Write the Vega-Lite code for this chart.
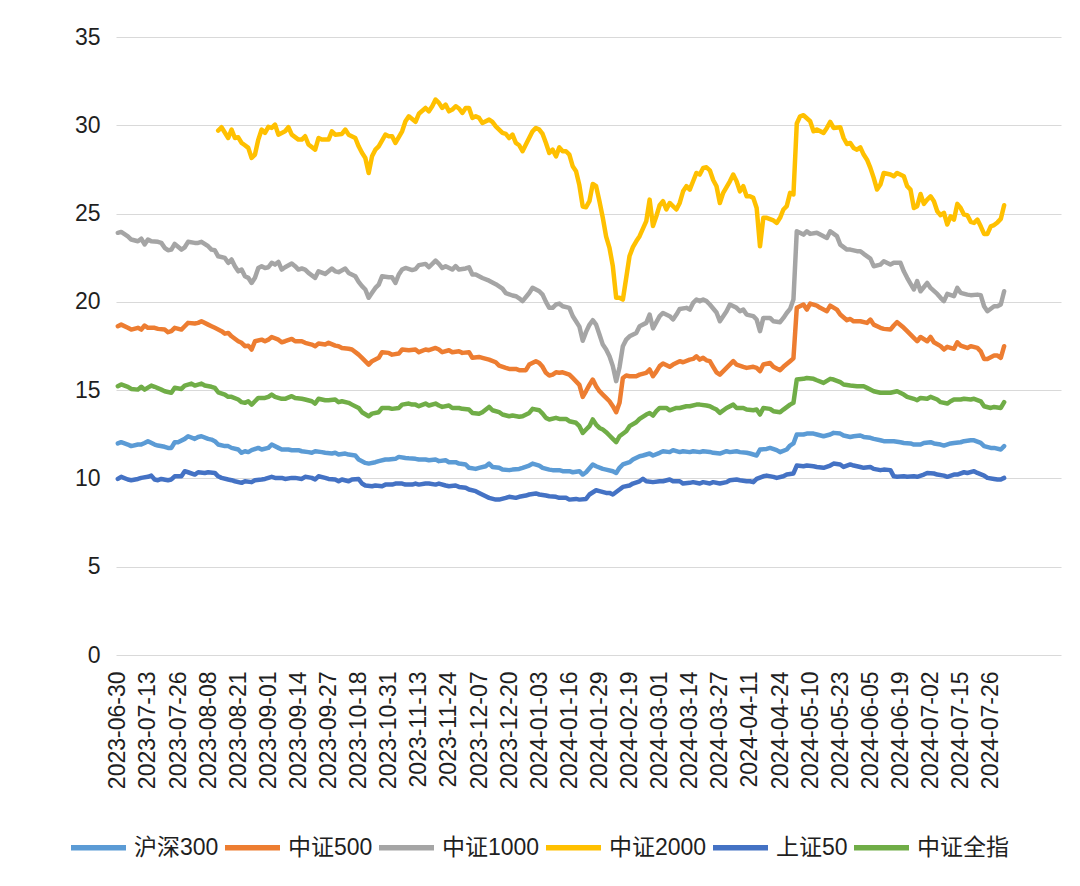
{
  "$schema": "https://vega.github.io/schema/vega-lite/v6.json",
  "width": 945,
  "height": 618,
  "autosize": {"type": "none"},
  "padding": {"left": 116, "top": 37, "right": 19, "bottom": 231},
  "background": "white",
  "config": {
    "view": {"stroke": null},
    "font": "Liberation Sans",
    "axis": {"labelFont": "Liberation Sans", "labelColor": "#1f1f1f", "labelFontSize": 23, "ticks": false, "domain": false, "title": null}
  },
  "datasets": {
    "hs300": [{"i":0,"v":11.98},{"i":1,"v":12.05},{"i":3,"v":11.92},{"i":4,"v":11.83},{"i":6,"v":11.92},{"i":7,"v":11.92},{"i":8,"v":12.01},{"i":9,"v":12.11},{"i":11,"v":11.92},{"i":12,"v":11.86},{"i":14,"v":11.79},{"i":15,"v":11.73},{"i":16,"v":11.73},{"i":17,"v":12.05},{"i":18,"v":12.05},{"i":20,"v":12.24},{"i":21,"v":12.39},{"i":23,"v":12.24},{"i":24,"v":12.35},{"i":25,"v":12.39},{"i":27,"v":12.24},{"i":28,"v":12.2},{"i":29,"v":12.11},{"i":30,"v":11.92},{"i":32,"v":11.83},{"i":33,"v":11.83},{"i":34,"v":11.73},{"i":36,"v":11.64},{"i":37,"v":11.45},{"i":38,"v":11.54},{"i":39,"v":11.49},{"i":40,"v":11.6},{"i":42,"v":11.73},{"i":43,"v":11.64},{"i":45,"v":11.73},{"i":46,"v":11.92},{"i":48,"v":11.73},{"i":49,"v":11.64},{"i":51,"v":11.64},{"i":52,"v":11.6},{"i":54,"v":11.6},{"i":55,"v":11.54},{"i":57,"v":11.49},{"i":58,"v":11.45},{"i":59,"v":11.54},{"i":61,"v":11.49},{"i":62,"v":11.45},{"i":64,"v":11.41},{"i":65,"v":11.45},{"i":66,"v":11.35},{"i":68,"v":11.41},{"i":69,"v":11.35},{"i":71,"v":11.3},{"i":72,"v":11.07},{"i":74,"v":10.88},{"i":75,"v":10.84},{"i":77,"v":10.92},{"i":78,"v":10.98},{"i":80,"v":11.07},{"i":81,"v":11.07},{"i":83,"v":11.11},{"i":84,"v":11.22},{"i":86,"v":11.16},{"i":87,"v":11.14},{"i":89,"v":11.11},{"i":90,"v":11.07},{"i":92,"v":11.07},{"i":93,"v":11.03},{"i":95,"v":11.07},{"i":96,"v":10.98},{"i":98,"v":11.03},{"i":99,"v":10.92},{"i":101,"v":10.92},{"i":102,"v":10.84},{"i":104,"v":10.79},{"i":105,"v":10.6},{"i":107,"v":10.54},{"i":108,"v":10.6},{"i":110,"v":10.69},{"i":111,"v":10.84},{"i":112,"v":10.65},{"i":114,"v":10.6},{"i":115,"v":10.5},{"i":117,"v":10.47},{"i":118,"v":10.5},{"i":120,"v":10.54},{"i":121,"v":10.6},{"i":123,"v":10.73},{"i":124,"v":10.84},{"i":126,"v":10.73},{"i":127,"v":10.6},{"i":129,"v":10.5},{"i":130,"v":10.47},{"i":132,"v":10.47},{"i":133,"v":10.41},{"i":135,"v":10.41},{"i":136,"v":10.35},{"i":138,"v":10.41},{"i":139,"v":10.22},{"i":140,"v":10.35},{"i":142,"v":10.79},{"i":143,"v":10.69},{"i":145,"v":10.54},{"i":146,"v":10.5},{"i":148,"v":10.41},{"i":149,"v":10.31},{"i":150,"v":10.6},{"i":151,"v":10.79},{"i":153,"v":10.92},{"i":154,"v":11.07},{"i":156,"v":11.26},{"i":157,"v":11.3},{"i":159,"v":11.41},{"i":160,"v":11.3},{"i":162,"v":11.45},{"i":163,"v":11.54},{"i":165,"v":11.49},{"i":166,"v":11.6},{"i":168,"v":11.49},{"i":169,"v":11.54},{"i":171,"v":11.49},{"i":172,"v":11.54},{"i":174,"v":11.49},{"i":175,"v":11.54},{"i":177,"v":11.5},{"i":178,"v":11.45},{"i":180,"v":11.41},{"i":182,"v":11.54},{"i":183,"v":11.49},{"i":185,"v":11.54},{"i":186,"v":11.49},{"i":188,"v":11.45},{"i":189,"v":11.41},{"i":191,"v":11.3},{"i":192,"v":11.64},{"i":194,"v":11.67},{"i":195,"v":11.73},{"i":197,"v":11.6},{"i":198,"v":11.49},{"i":200,"v":11.64},{"i":201,"v":11.86},{"i":202,"v":11.98},{"i":203,"v":12.49},{"i":205,"v":12.49},{"i":206,"v":12.54},{"i":208,"v":12.54},{"i":209,"v":12.49},{"i":211,"v":12.39},{"i":213,"v":12.49},{"i":214,"v":12.58},{"i":216,"v":12.54},{"i":217,"v":12.43},{"i":219,"v":12.35},{"i":220,"v":12.39},{"i":222,"v":12.43},{"i":223,"v":12.35},{"i":225,"v":12.3},{"i":226,"v":12.24},{"i":228,"v":12.16},{"i":229,"v":12.11},{"i":231,"v":12.11},{"i":232,"v":12.11},{"i":234,"v":12.05},{"i":235,"v":12.01},{"i":237,"v":11.98},{"i":238,"v":11.92},{"i":240,"v":11.92},{"i":241,"v":12.01},{"i":243,"v":12.05},{"i":244,"v":11.98},{"i":246,"v":11.92},{"i":247,"v":11.86},{"i":249,"v":11.98},{"i":250,"v":12.01},{"i":252,"v":12.05},{"i":253,"v":12.11},{"i":255,"v":12.16},{"i":256,"v":12.16},{"i":258,"v":12.01},{"i":259,"v":11.83},{"i":261,"v":11.73},{"i":262,"v":11.73},{"i":264,"v":11.64},{"i":265,"v":11.83}],
    "zz500": [{"i":0,"v":18.62},{"i":1,"v":18.71},{"i":3,"v":18.53},{"i":4,"v":18.43},{"i":6,"v":18.53},{"i":7,"v":18.43},{"i":8,"v":18.66},{"i":9,"v":18.53},{"i":11,"v":18.53},{"i":12,"v":18.47},{"i":14,"v":18.43},{"i":15,"v":18.28},{"i":16,"v":18.34},{"i":17,"v":18.53},{"i":19,"v":18.43},{"i":20,"v":18.62},{"i":21,"v":18.81},{"i":23,"v":18.77},{"i":24,"v":18.81},{"i":25,"v":18.9},{"i":27,"v":18.71},{"i":28,"v":18.62},{"i":29,"v":18.53},{"i":31,"v":18.34},{"i":32,"v":18.2},{"i":33,"v":18.24},{"i":34,"v":18.05},{"i":36,"v":17.77},{"i":37,"v":17.68},{"i":38,"v":17.49},{"i":39,"v":17.52},{"i":40,"v":17.3},{"i":41,"v":17.77},{"i":43,"v":17.86},{"i":44,"v":17.77},{"i":45,"v":17.86},{"i":46,"v":18.01},{"i":48,"v":17.86},{"i":49,"v":17.71},{"i":50,"v":17.77},{"i":52,"v":17.9},{"i":53,"v":17.77},{"i":55,"v":17.77},{"i":56,"v":17.68},{"i":58,"v":17.58},{"i":59,"v":17.49},{"i":60,"v":17.64},{"i":62,"v":17.58},{"i":63,"v":17.68},{"i":65,"v":17.52},{"i":66,"v":17.49},{"i":67,"v":17.39},{"i":69,"v":17.34},{"i":70,"v":17.3},{"i":72,"v":17.01},{"i":73,"v":16.83},{"i":75,"v":16.45},{"i":76,"v":16.64},{"i":78,"v":16.83},{"i":79,"v":17.15},{"i":81,"v":17.11},{"i":82,"v":17.01},{"i":84,"v":17.07},{"i":85,"v":17.3},{"i":87,"v":17.26},{"i":89,"v":17.3},{"i":90,"v":17.15},{"i":92,"v":17.3},{"i":93,"v":17.26},{"i":95,"v":17.39},{"i":96,"v":17.3},{"i":97,"v":17.15},{"i":99,"v":17.26},{"i":100,"v":17.15},{"i":102,"v":17.2},{"i":103,"v":17.11},{"i":105,"v":17.15},{"i":106,"v":16.83},{"i":108,"v":16.88},{"i":109,"v":16.83},{"i":111,"v":16.73},{"i":113,"v":16.58},{"i":114,"v":16.39},{"i":116,"v":16.26},{"i":117,"v":16.2},{"i":119,"v":16.2},{"i":120,"v":16.13},{"i":122,"v":16.13},{"i":123,"v":16.45},{"i":125,"v":16.64},{"i":126,"v":16.54},{"i":127,"v":16.32},{"i":128,"v":15.98},{"i":129,"v":15.83},{"i":130,"v":15.88},{"i":131,"v":16.01},{"i":132,"v":15.98},{"i":133,"v":16.01},{"i":135,"v":15.88},{"i":136,"v":15.69},{"i":138,"v":15.3},{"i":139,"v":14.62},{"i":140,"v":14.95},{"i":141,"v":15.3},{"i":142,"v":15.6},{"i":143,"v":15.22},{"i":144,"v":14.94},{"i":145,"v":14.75},{"i":146,"v":14.56},{"i":147,"v":14.37},{"i":148,"v":14.09},{"i":149,"v":13.75},{"i":150,"v":14.28},{"i":151,"v":15.69},{"i":152,"v":15.83},{"i":153,"v":15.79},{"i":155,"v":15.79},{"i":156,"v":15.88},{"i":158,"v":15.98},{"i":159,"v":16.17},{"i":160,"v":15.79},{"i":161,"v":16.05},{"i":162,"v":16.36},{"i":163,"v":16.51},{"i":165,"v":16.32},{"i":166,"v":16.45},{"i":168,"v":16.64},{"i":169,"v":16.58},{"i":171,"v":16.73},{"i":172,"v":16.77},{"i":173,"v":16.92},{"i":174,"v":16.73},{"i":175,"v":16.83},{"i":176,"v":16.69},{"i":177,"v":16.64},{"i":178,"v":16.32},{"i":179,"v":16.01},{"i":180,"v":15.88},{"i":182,"v":16.26},{"i":184,"v":16.64},{"i":185,"v":16.45},{"i":187,"v":16.32},{"i":188,"v":16.26},{"i":190,"v":16.32},{"i":191,"v":16.26},{"i":192,"v":16.07},{"i":193,"v":16.45},{"i":195,"v":16.54},{"i":196,"v":16.32},{"i":198,"v":16.13},{"i":199,"v":16.32},{"i":201,"v":16.64},{"i":202,"v":16.8},{"i":203,"v":19.66},{"i":205,"v":19.85},{"i":206,"v":19.56},{"i":207,"v":19.9},{"i":209,"v":19.79},{"i":210,"v":19.66},{"i":212,"v":19.47},{"i":213,"v":19.79},{"i":215,"v":19.56},{"i":216,"v":19.28},{"i":218,"v":18.96},{"i":219,"v":19.03},{"i":220,"v":18.9},{"i":222,"v":18.9},{"i":224,"v":18.81},{"i":225,"v":19.0},{"i":226,"v":18.71},{"i":228,"v":18.53},{"i":229,"v":18.47},{"i":231,"v":18.43},{"i":232,"v":18.66},{"i":233,"v":18.85},{"i":235,"v":18.53},{"i":236,"v":18.34},{"i":238,"v":17.96},{"i":239,"v":17.77},{"i":240,"v":18.01},{"i":242,"v":17.77},{"i":243,"v":18.01},{"i":244,"v":17.71},{"i":246,"v":17.49},{"i":247,"v":17.3},{"i":248,"v":17.45},{"i":250,"v":17.34},{"i":251,"v":17.71},{"i":252,"v":17.52},{"i":254,"v":17.39},{"i":255,"v":17.49},{"i":257,"v":17.39},{"i":258,"v":17.2},{"i":259,"v":16.77},{"i":260,"v":16.77},{"i":262,"v":16.96},{"i":263,"v":16.96},{"i":264,"v":16.83},{"i":265,"v":17.49}],
    "zz1000": [{"i":0,"v":23.91},{"i":1,"v":23.96},{"i":3,"v":23.71},{"i":4,"v":23.53},{"i":6,"v":23.43},{"i":7,"v":23.58},{"i":8,"v":23.25},{"i":9,"v":23.53},{"i":10,"v":23.43},{"i":12,"v":23.4},{"i":13,"v":23.34},{"i":14,"v":23.06},{"i":15,"v":22.92},{"i":16,"v":22.96},{"i":17,"v":23.28},{"i":19,"v":22.96},{"i":20,"v":23.09},{"i":21,"v":23.4},{"i":23,"v":23.34},{"i":24,"v":23.34},{"i":25,"v":23.4},{"i":27,"v":23.15},{"i":28,"v":22.96},{"i":29,"v":22.92},{"i":30,"v":22.58},{"i":32,"v":22.49},{"i":33,"v":22.21},{"i":34,"v":22.4},{"i":35,"v":22.02},{"i":36,"v":21.73},{"i":37,"v":21.83},{"i":38,"v":21.45},{"i":39,"v":21.36},{"i":40,"v":21.07},{"i":41,"v":21.36},{"i":42,"v":21.92},{"i":43,"v":22.02},{"i":44,"v":21.92},{"i":45,"v":21.96},{"i":46,"v":22.21},{"i":47,"v":22.11},{"i":48,"v":22.26},{"i":49,"v":21.83},{"i":50,"v":21.96},{"i":52,"v":22.17},{"i":53,"v":22.02},{"i":54,"v":21.83},{"i":55,"v":21.89},{"i":56,"v":21.83},{"i":57,"v":21.64},{"i":59,"v":21.36},{"i":60,"v":21.73},{"i":62,"v":21.58},{"i":63,"v":21.73},{"i":64,"v":21.89},{"i":65,"v":21.73},{"i":66,"v":21.68},{"i":68,"v":21.89},{"i":69,"v":21.64},{"i":71,"v":21.45},{"i":72,"v":21.13},{"i":73,"v":20.89},{"i":74,"v":20.7},{"i":75,"v":20.23},{"i":76,"v":20.51},{"i":77,"v":20.79},{"i":78,"v":20.98},{"i":79,"v":21.45},{"i":81,"v":21.39},{"i":82,"v":21.39},{"i":83,"v":21.07},{"i":84,"v":21.55},{"i":85,"v":21.83},{"i":86,"v":21.92},{"i":88,"v":21.8},{"i":89,"v":21.85},{"i":90,"v":22.08},{"i":92,"v":22.15},{"i":93,"v":21.96},{"i":95,"v":22.34},{"i":96,"v":22.15},{"i":97,"v":21.92},{"i":98,"v":22.02},{"i":100,"v":21.83},{"i":101,"v":22.02},{"i":102,"v":21.83},{"i":104,"v":21.89},{"i":105,"v":21.96},{"i":106,"v":21.55},{"i":107,"v":21.55},{"i":109,"v":21.35},{"i":111,"v":21.2},{"i":113,"v":21.0},{"i":115,"v":20.75},{"i":116,"v":20.5},{"i":118,"v":20.36},{"i":119,"v":20.32},{"i":120,"v":20.2},{"i":121,"v":20.04},{"i":123,"v":20.5},{"i":124,"v":20.8},{"i":126,"v":20.6},{"i":127,"v":20.41},{"i":128,"v":20.0},{"i":129,"v":19.66},{"i":130,"v":19.66},{"i":131,"v":19.85},{"i":132,"v":19.9},{"i":133,"v":19.75},{"i":135,"v":19.66},{"i":136,"v":19.2},{"i":138,"v":18.6},{"i":139,"v":17.8},{"i":140,"v":18.3},{"i":141,"v":18.7},{"i":142,"v":18.96},{"i":143,"v":18.71},{"i":144,"v":18.15},{"i":145,"v":17.58},{"i":146,"v":17.3},{"i":147,"v":16.92},{"i":148,"v":16.36},{"i":149,"v":15.51},{"i":150,"v":16.3},{"i":151,"v":17.49},{"i":152,"v":17.86},{"i":153,"v":18.05},{"i":155,"v":18.24},{"i":156,"v":18.62},{"i":158,"v":18.81},{"i":159,"v":19.28},{"i":160,"v":18.5},{"i":162,"v":19.19},{"i":163,"v":19.37},{"i":165,"v":19.19},{"i":166,"v":19.0},{"i":167,"v":19.28},{"i":168,"v":19.6},{"i":170,"v":19.66},{"i":171,"v":19.56},{"i":172,"v":19.94},{"i":173,"v":20.13},{"i":174,"v":20.04},{"i":175,"v":20.13},{"i":176,"v":20.04},{"i":177,"v":19.85},{"i":179,"v":19.4},{"i":180,"v":18.9},{"i":182,"v":19.47},{"i":183,"v":19.85},{"i":185,"v":19.66},{"i":186,"v":19.47},{"i":187,"v":19.56},{"i":188,"v":19.28},{"i":190,"v":19.19},{"i":191,"v":19.0},{"i":192,"v":18.34},{"i":193,"v":19.09},{"i":195,"v":19.09},{"i":196,"v":18.9},{"i":198,"v":18.85},{"i":199,"v":19.09},{"i":200,"v":19.37},{"i":201,"v":19.6},{"i":202,"v":20.13},{"i":203,"v":24.0},{"i":205,"v":23.81},{"i":206,"v":24.0},{"i":207,"v":23.85},{"i":209,"v":23.91},{"i":210,"v":23.81},{"i":212,"v":23.62},{"i":213,"v":24.0},{"i":215,"v":23.72},{"i":216,"v":23.24},{"i":218,"v":22.96},{"i":219,"v":22.96},{"i":221,"v":22.87},{"i":222,"v":22.87},{"i":223,"v":22.72},{"i":225,"v":22.45},{"i":226,"v":22.02},{"i":228,"v":22.11},{"i":229,"v":22.3},{"i":231,"v":22.11},{"i":232,"v":22.21},{"i":234,"v":22.21},{"i":235,"v":21.73},{"i":236,"v":21.36},{"i":238,"v":20.7},{"i":239,"v":21.17},{"i":240,"v":20.6},{"i":242,"v":21.07},{"i":243,"v":20.79},{"i":245,"v":20.45},{"i":246,"v":20.23},{"i":247,"v":20.04},{"i":248,"v":20.45},{"i":250,"v":20.32},{"i":251,"v":20.79},{"i":252,"v":20.51},{"i":254,"v":20.41},{"i":255,"v":20.38},{"i":257,"v":20.41},{"i":258,"v":20.38},{"i":259,"v":19.75},{"i":260,"v":19.47},{"i":262,"v":19.75},{"i":263,"v":19.75},{"i":264,"v":19.85},{"i":265,"v":20.6}],
    "zz2000": [{"i":30,"v":29.7},{"i":31,"v":29.89},{"i":33,"v":29.28},{"i":34,"v":29.76},{"i":35,"v":29.28},{"i":36,"v":29.32},{"i":37,"v":29.0},{"i":38,"v":28.87},{"i":39,"v":28.72},{"i":40,"v":28.15},{"i":41,"v":28.34},{"i":42,"v":29.19},{"i":43,"v":29.76},{"i":44,"v":29.57},{"i":45,"v":29.91},{"i":46,"v":29.85},{"i":47,"v":30.04},{"i":48,"v":29.47},{"i":50,"v":29.66},{"i":51,"v":29.89},{"i":52,"v":29.47},{"i":54,"v":29.19},{"i":55,"v":29.19},{"i":56,"v":29.38},{"i":57,"v":28.91},{"i":59,"v":28.62},{"i":60,"v":29.28},{"i":61,"v":29.19},{"i":63,"v":29.19},{"i":64,"v":29.66},{"i":65,"v":29.47},{"i":67,"v":29.51},{"i":68,"v":29.76},{"i":69,"v":29.47},{"i":71,"v":29.28},{"i":72,"v":28.81},{"i":73,"v":28.44},{"i":74,"v":28.15},{"i":75,"v":27.3},{"i":76,"v":28.24},{"i":77,"v":28.62},{"i":78,"v":28.81},{"i":80,"v":29.47},{"i":81,"v":29.38},{"i":82,"v":29.38},{"i":83,"v":29.0},{"i":85,"v":29.66},{"i":86,"v":30.23},{"i":87,"v":30.51},{"i":89,"v":30.2},{"i":90,"v":30.65},{"i":92,"v":30.98},{"i":93,"v":30.79},{"i":94,"v":31.08},{"i":95,"v":31.46},{"i":96,"v":31.27},{"i":97,"v":30.98},{"i":98,"v":31.17},{"i":99,"v":30.79},{"i":100,"v":30.89},{"i":101,"v":31.08},{"i":102,"v":30.95},{"i":103,"v":30.7},{"i":104,"v":30.98},{"i":105,"v":30.98},{"i":106,"v":30.42},{"i":107,"v":30.51},{"i":108,"v":30.42},{"i":109,"v":30.13},{"i":111,"v":30.32},{"i":112,"v":30.19},{"i":113,"v":29.94},{"i":115,"v":29.57},{"i":116,"v":29.51},{"i":117,"v":29.28},{"i":118,"v":29.47},{"i":119,"v":29.0},{"i":120,"v":28.87},{"i":121,"v":28.53},{"i":122,"v":28.91},{"i":124,"v":29.66},{"i":125,"v":29.85},{"i":126,"v":29.76},{"i":127,"v":29.51},{"i":128,"v":29.0},{"i":129,"v":28.43},{"i":130,"v":28.62},{"i":131,"v":28.24},{"i":132,"v":28.75},{"i":133,"v":28.53},{"i":134,"v":28.53},{"i":135,"v":28.34},{"i":136,"v":27.68},{"i":137,"v":27.4},{"i":138,"v":26.6},{"i":139,"v":25.4},{"i":140,"v":25.36},{"i":141,"v":25.7},{"i":142,"v":26.68},{"i":143,"v":26.55},{"i":144,"v":25.7},{"i":145,"v":24.76},{"i":146,"v":23.7},{"i":147,"v":23.06},{"i":148,"v":22.02},{"i":149,"v":20.23},{"i":150,"v":20.23},{"i":151,"v":20.13},{"i":152,"v":21.36},{"i":153,"v":22.6},{"i":154,"v":23.1},{"i":155,"v":23.43},{"i":156,"v":23.72},{"i":158,"v":24.57},{"i":159,"v":25.79},{"i":160,"v":24.3},{"i":161,"v":24.85},{"i":162,"v":25.47},{"i":163,"v":25.7},{"i":164,"v":25.23},{"i":165,"v":25.6},{"i":167,"v":25.23},{"i":168,"v":25.6},{"i":169,"v":26.26},{"i":170,"v":26.55},{"i":171,"v":26.36},{"i":172,"v":26.83},{"i":173,"v":27.3},{"i":174,"v":27.21},{"i":175,"v":27.58},{"i":176,"v":27.62},{"i":177,"v":27.45},{"i":178,"v":26.9},{"i":179,"v":26.55},{"i":180,"v":25.6},{"i":181,"v":26.17},{"i":183,"v":26.83},{"i":184,"v":27.21},{"i":185,"v":26.83},{"i":186,"v":26.26},{"i":187,"v":26.55},{"i":188,"v":25.98},{"i":189,"v":25.98},{"i":190,"v":25.89},{"i":191,"v":25.32},{"i":192,"v":23.15},{"i":193,"v":24.76},{"i":194,"v":24.76},{"i":196,"v":24.61},{"i":197,"v":24.47},{"i":198,"v":24.76},{"i":199,"v":25.23},{"i":200,"v":25.42},{"i":201,"v":26.17},{"i":202,"v":26.08},{"i":203,"v":30.1},{"i":204,"v":30.51},{"i":205,"v":30.57},{"i":206,"v":30.4},{"i":207,"v":30.23},{"i":208,"v":29.66},{"i":209,"v":29.76},{"i":211,"v":29.57},{"i":212,"v":29.85},{"i":213,"v":30.19},{"i":214,"v":29.85},{"i":216,"v":29.89},{"i":217,"v":29.28},{"i":218,"v":28.94},{"i":219,"v":29.0},{"i":220,"v":28.72},{"i":221,"v":28.62},{"i":222,"v":28.75},{"i":223,"v":28.34},{"i":224,"v":28.05},{"i":225,"v":27.59},{"i":226,"v":27.02},{"i":227,"v":26.36},{"i":228,"v":26.64},{"i":229,"v":27.3},{"i":231,"v":27.21},{"i":232,"v":27.11},{"i":233,"v":27.3},{"i":235,"v":27.11},{"i":236,"v":26.55},{"i":237,"v":26.36},{"i":238,"v":25.32},{"i":239,"v":25.42},{"i":240,"v":26.11},{"i":241,"v":25.55},{"i":242,"v":25.79},{"i":243,"v":25.98},{"i":244,"v":25.7},{"i":245,"v":25.13},{"i":246,"v":24.91},{"i":247,"v":25.04},{"i":248,"v":24.38},{"i":249,"v":24.85},{"i":250,"v":24.66},{"i":251,"v":25.55},{"i":252,"v":25.32},{"i":253,"v":24.94},{"i":254,"v":24.91},{"i":255,"v":24.53},{"i":256,"v":24.47},{"i":257,"v":24.66},{"i":258,"v":24.28},{"i":259,"v":23.85},{"i":260,"v":23.85},{"i":261,"v":24.28},{"i":262,"v":24.35},{"i":263,"v":24.5},{"i":264,"v":24.7},{"i":265,"v":25.47}],
    "sz50": [{"i":0,"v":9.97},{"i":1,"v":10.09},{"i":3,"v":9.94},{"i":4,"v":9.9},{"i":6,"v":9.97},{"i":7,"v":10.03},{"i":9,"v":10.09},{"i":10,"v":10.16},{"i":11,"v":9.94},{"i":12,"v":9.9},{"i":13,"v":9.97},{"i":15,"v":9.9},{"i":16,"v":9.94},{"i":17,"v":10.12},{"i":19,"v":10.12},{"i":20,"v":10.41},{"i":21,"v":10.35},{"i":23,"v":10.22},{"i":24,"v":10.35},{"i":26,"v":10.31},{"i":27,"v":10.35},{"i":29,"v":10.31},{"i":30,"v":10.12},{"i":31,"v":10.03},{"i":33,"v":9.94},{"i":34,"v":9.9},{"i":35,"v":9.84},{"i":37,"v":9.75},{"i":38,"v":9.84},{"i":40,"v":9.79},{"i":41,"v":9.9},{"i":43,"v":9.94},{"i":44,"v":9.97},{"i":46,"v":10.09},{"i":47,"v":10.03},{"i":49,"v":10.03},{"i":50,"v":9.97},{"i":52,"v":10.03},{"i":53,"v":10.03},{"i":55,"v":9.97},{"i":56,"v":10.09},{"i":58,"v":10.03},{"i":59,"v":9.94},{"i":60,"v":10.12},{"i":62,"v":10.03},{"i":63,"v":9.97},{"i":65,"v":9.94},{"i":66,"v":9.84},{"i":67,"v":9.94},{"i":69,"v":9.84},{"i":70,"v":9.94},{"i":72,"v":9.97},{"i":73,"v":9.71},{"i":74,"v":9.6},{"i":76,"v":9.56},{"i":77,"v":9.6},{"i":79,"v":9.56},{"i":80,"v":9.65},{"i":82,"v":9.65},{"i":83,"v":9.71},{"i":85,"v":9.71},{"i":86,"v":9.65},{"i":88,"v":9.65},{"i":89,"v":9.71},{"i":90,"v":9.65},{"i":92,"v":9.71},{"i":93,"v":9.71},{"i":95,"v":9.65},{"i":96,"v":9.71},{"i":98,"v":9.6},{"i":99,"v":9.56},{"i":101,"v":9.6},{"i":102,"v":9.52},{"i":104,"v":9.47},{"i":105,"v":9.37},{"i":107,"v":9.28},{"i":108,"v":9.18},{"i":110,"v":8.99},{"i":111,"v":8.9},{"i":113,"v":8.8},{"i":114,"v":8.8},{"i":116,"v":8.9},{"i":117,"v":8.96},{"i":119,"v":8.9},{"i":120,"v":8.96},{"i":122,"v":9.03},{"i":123,"v":9.09},{"i":125,"v":9.15},{"i":126,"v":9.09},{"i":128,"v":9.03},{"i":129,"v":8.99},{"i":131,"v":8.96},{"i":132,"v":8.9},{"i":134,"v":8.9},{"i":135,"v":8.8},{"i":137,"v":8.84},{"i":138,"v":8.8},{"i":140,"v":8.84},{"i":141,"v":9.09},{"i":143,"v":9.33},{"i":144,"v":9.28},{"i":146,"v":9.18},{"i":147,"v":9.18},{"i":148,"v":9.09},{"i":150,"v":9.37},{"i":151,"v":9.52},{"i":153,"v":9.6},{"i":154,"v":9.71},{"i":156,"v":9.84},{"i":157,"v":9.98},{"i":158,"v":9.84},{"i":160,"v":9.79},{"i":162,"v":9.84},{"i":163,"v":9.84},{"i":165,"v":9.94},{"i":166,"v":9.84},{"i":168,"v":9.84},{"i":169,"v":9.71},{"i":171,"v":9.75},{"i":172,"v":9.79},{"i":174,"v":9.71},{"i":175,"v":9.79},{"i":177,"v":9.71},{"i":178,"v":9.79},{"i":180,"v":9.71},{"i":182,"v":9.79},{"i":183,"v":9.9},{"i":185,"v":9.94},{"i":186,"v":9.9},{"i":188,"v":9.84},{"i":189,"v":9.84},{"i":190,"v":9.79},{"i":191,"v":9.97},{"i":193,"v":10.12},{"i":194,"v":10.16},{"i":196,"v":10.09},{"i":197,"v":10.03},{"i":199,"v":10.12},{"i":200,"v":10.22},{"i":202,"v":10.28},{"i":203,"v":10.73},{"i":205,"v":10.69},{"i":206,"v":10.73},{"i":208,"v":10.69},{"i":209,"v":10.65},{"i":211,"v":10.6},{"i":213,"v":10.73},{"i":214,"v":10.84},{"i":216,"v":10.79},{"i":217,"v":10.65},{"i":219,"v":10.79},{"i":220,"v":10.73},{"i":222,"v":10.65},{"i":223,"v":10.6},{"i":225,"v":10.65},{"i":226,"v":10.54},{"i":228,"v":10.47},{"i":229,"v":10.5},{"i":231,"v":10.47},{"i":232,"v":10.12},{"i":233,"v":10.09},{"i":235,"v":10.12},{"i":236,"v":10.09},{"i":238,"v":10.12},{"i":239,"v":10.09},{"i":241,"v":10.22},{"i":242,"v":10.31},{"i":244,"v":10.28},{"i":245,"v":10.22},{"i":247,"v":10.16},{"i":248,"v":10.09},{"i":250,"v":10.22},{"i":251,"v":10.22},{"i":253,"v":10.35},{"i":254,"v":10.31},{"i":256,"v":10.41},{"i":257,"v":10.31},{"i":259,"v":10.16},{"i":260,"v":10.03},{"i":262,"v":9.97},{"i":263,"v":9.94},{"i":264,"v":9.94},{"i":265,"v":10.03}],
    "zzqz": [{"i":0,"v":15.22},{"i":1,"v":15.32},{"i":3,"v":15.19},{"i":4,"v":15.07},{"i":6,"v":15.03},{"i":7,"v":15.19},{"i":8,"v":15.03},{"i":10,"v":15.26},{"i":11,"v":15.19},{"i":13,"v":15.03},{"i":14,"v":14.94},{"i":16,"v":14.85},{"i":17,"v":15.13},{"i":19,"v":15.07},{"i":20,"v":15.26},{"i":22,"v":15.37},{"i":23,"v":15.26},{"i":25,"v":15.37},{"i":26,"v":15.26},{"i":28,"v":15.19},{"i":29,"v":15.13},{"i":30,"v":14.88},{"i":32,"v":14.75},{"i":33,"v":14.62},{"i":34,"v":14.62},{"i":36,"v":14.47},{"i":37,"v":14.32},{"i":38,"v":14.28},{"i":39,"v":14.37},{"i":40,"v":14.18},{"i":41,"v":14.37},{"i":42,"v":14.56},{"i":44,"v":14.56},{"i":45,"v":14.62},{"i":46,"v":14.75},{"i":47,"v":14.62},{"i":49,"v":14.51},{"i":50,"v":14.51},{"i":52,"v":14.66},{"i":53,"v":14.56},{"i":55,"v":14.51},{"i":56,"v":14.47},{"i":58,"v":14.37},{"i":59,"v":14.24},{"i":60,"v":14.51},{"i":62,"v":14.43},{"i":63,"v":14.43},{"i":65,"v":14.47},{"i":66,"v":14.32},{"i":67,"v":14.37},{"i":69,"v":14.28},{"i":70,"v":14.18},{"i":72,"v":13.99},{"i":73,"v":13.75},{"i":75,"v":13.52},{"i":76,"v":13.67},{"i":78,"v":13.75},{"i":79,"v":13.99},{"i":81,"v":13.99},{"i":82,"v":13.94},{"i":84,"v":13.99},{"i":85,"v":14.18},{"i":87,"v":14.24},{"i":88,"v":14.18},{"i":89,"v":14.18},{"i":90,"v":14.09},{"i":92,"v":14.24},{"i":93,"v":14.13},{"i":95,"v":14.24},{"i":96,"v":14.13},{"i":97,"v":14.05},{"i":99,"v":14.13},{"i":100,"v":13.99},{"i":102,"v":13.99},{"i":103,"v":13.94},{"i":105,"v":13.9},{"i":106,"v":13.71},{"i":108,"v":13.66},{"i":109,"v":13.75},{"i":111,"v":14.05},{"i":112,"v":13.86},{"i":114,"v":13.75},{"i":115,"v":13.62},{"i":117,"v":13.52},{"i":118,"v":13.56},{"i":120,"v":13.49},{"i":121,"v":13.52},{"i":123,"v":13.71},{"i":124,"v":13.94},{"i":126,"v":13.86},{"i":127,"v":13.67},{"i":128,"v":13.43},{"i":129,"v":13.34},{"i":131,"v":13.43},{"i":132,"v":13.37},{"i":134,"v":13.37},{"i":135,"v":13.24},{"i":137,"v":13.15},{"i":138,"v":12.96},{"i":139,"v":12.58},{"i":140,"v":12.77},{"i":141,"v":12.96},{"i":142,"v":13.34},{"i":143,"v":13.05},{"i":144,"v":12.86},{"i":145,"v":12.77},{"i":146,"v":12.62},{"i":147,"v":12.43},{"i":148,"v":12.24},{"i":149,"v":12.05},{"i":150,"v":12.39},{"i":152,"v":12.67},{"i":153,"v":12.96},{"i":155,"v":13.18},{"i":156,"v":13.37},{"i":158,"v":13.62},{"i":159,"v":13.71},{"i":160,"v":13.56},{"i":161,"v":13.81},{"i":162,"v":13.99},{"i":164,"v":13.99},{"i":165,"v":13.86},{"i":167,"v":13.99},{"i":168,"v":13.99},{"i":170,"v":14.09},{"i":171,"v":14.09},{"i":173,"v":14.18},{"i":174,"v":14.18},{"i":176,"v":14.13},{"i":177,"v":14.09},{"i":178,"v":13.99},{"i":179,"v":13.9},{"i":180,"v":13.71},{"i":182,"v":13.99},{"i":184,"v":14.18},{"i":185,"v":13.99},{"i":187,"v":13.99},{"i":188,"v":13.9},{"i":190,"v":13.86},{"i":191,"v":13.9},{"i":192,"v":13.62},{"i":193,"v":13.99},{"i":195,"v":13.94},{"i":196,"v":13.81},{"i":198,"v":13.75},{"i":199,"v":13.9},{"i":201,"v":14.18},{"i":202,"v":14.28},{"i":203,"v":15.6},{"i":205,"v":15.64},{"i":206,"v":15.69},{"i":208,"v":15.64},{"i":209,"v":15.56},{"i":211,"v":15.41},{"i":213,"v":15.64},{"i":214,"v":15.6},{"i":216,"v":15.45},{"i":217,"v":15.32},{"i":219,"v":15.26},{"i":221,"v":15.22},{"i":223,"v":15.22},{"i":224,"v":15.13},{"i":226,"v":14.94},{"i":228,"v":14.85},{"i":229,"v":14.85},{"i":231,"v":14.85},{"i":233,"v":14.94},{"i":235,"v":14.75},{"i":236,"v":14.62},{"i":238,"v":14.51},{"i":239,"v":14.43},{"i":240,"v":14.56},{"i":242,"v":14.51},{"i":243,"v":14.62},{"i":245,"v":14.47},{"i":246,"v":14.32},{"i":248,"v":14.24},{"i":249,"v":14.37},{"i":250,"v":14.47},{"i":252,"v":14.47},{"i":253,"v":14.51},{"i":255,"v":14.47},{"i":256,"v":14.51},{"i":258,"v":14.37},{"i":259,"v":14.09},{"i":261,"v":13.99},{"i":262,"v":14.05},{"i":264,"v":13.99},{"i":265,"v":14.32}]
  },
  "encoding": {
    "x": {
      "field": "i", "type": "quantitative",
      "scale": {"domain": [-0.55, 282], "nice": false, "zero": false},
      "axis": {
        "values": [0,9,18,27,36,45,54,63,72,81,90,99,108,117,126,135,144,153,162,171,180,189,198,207,216,225,234,243,252,261],
        "labelExpr": "['2023-06-30','2023-07-13','2023-07-26','2023-08-08','2023-08-21','2023-09-01','2023-09-14','2023-09-27','2023-10-18','2023-10-31','2023-11-13','2023-11-24','2023-12-07','2023-12-20','2024-01-03','2024-01-16','2024-01-29','2024-02-19','2024-03-01','2024-03-14','2024-03-27','2024-04-11','2024-04-24','2024-05-10','2024-05-23','2024-06-05','2024-06-19','2024-07-02','2024-07-15','2024-07-26'][round(datum.value/9)]",
        "labelAngle": -90, "labelPadding": 16, "grid": false, "labelOverlap": false, "labelFlush": false
      }
    },
    "y": {
      "field": "v", "type": "quantitative",
      "scale": {"domain": [0, 35], "nice": false, "zero": true},
      "axis": {"values": [0,5,10,15,20,25,30,35], "grid": true, "gridColor": "#d9d9d9", "gridWidth": 1, "labelPadding": 16}
    },
    "color": {
      "scale": {
        "domain": ["沪深300", "中证500", "中证1000", "中证2000", "上证50", "中证全指"],
        "range": ["#5B9BD5", "#ED7D31", "#A5A5A5", "#FFC000", "#4472C4", "#70AD47"]
      },
      "legend": {
        "title": null, "orient": "none", "direction": "horizontal",
        "legendX": -48, "legendY": 780, "padding": 0,
        "symbolType": "stroke", "symbolSize": 3025, "symbolStrokeWidth": 5.5,
        "labelFont": "Liberation Sans, Noto Sans CJK SC", "labelFontSize": 23, "labelColor": "#1f1f1f",
        "labelOffset": 5, "columnPadding": -5
      }
    }
  },
  "layer": [
    {"data": {"name": "hs300"}, "mark": {"type": "line", "strokeWidth": 4.5, "strokeJoin": "round", "strokeCap": "round"}, "encoding": {"color": {"datum": "沪深300"}}},
    {"data": {"name": "zz500"}, "mark": {"type": "line", "strokeWidth": 4.5, "strokeJoin": "round", "strokeCap": "round"}, "encoding": {"color": {"datum": "中证500"}}},
    {"data": {"name": "zz1000"}, "mark": {"type": "line", "strokeWidth": 4.5, "strokeJoin": "round", "strokeCap": "round"}, "encoding": {"color": {"datum": "中证1000"}}},
    {"data": {"name": "zz2000"}, "mark": {"type": "line", "strokeWidth": 4.5, "strokeJoin": "round", "strokeCap": "round"}, "encoding": {"color": {"datum": "中证2000"}}},
    {"data": {"name": "sz50"}, "mark": {"type": "line", "strokeWidth": 4.5, "strokeJoin": "round", "strokeCap": "round"}, "encoding": {"color": {"datum": "上证50"}}},
    {"data": {"name": "zzqz"}, "mark": {"type": "line", "strokeWidth": 4.5, "strokeJoin": "round", "strokeCap": "round"}, "encoding": {"color": {"datum": "中证全指"}}}
  ]
}
